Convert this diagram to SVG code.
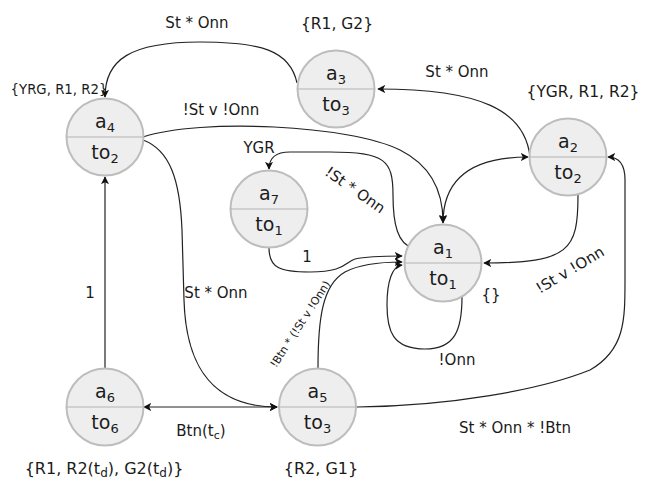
<svg xmlns="http://www.w3.org/2000/svg" width="646" height="483" viewBox="0 0 646 483">
<style>
  .node circle { fill: #eeeeee; stroke: #bdbdbd; stroke-width: 2; }
  .node line { stroke: #b3b3b3; stroke-width: 1; }
  .nt { font-family: "DejaVu Sans", "Liberation Sans", sans-serif; font-size: 19px; fill: #1a1a1a; text-anchor: middle; }
  .sub { font-size: 13px; }
  .lbl { font-family: "DejaVu Sans", "Liberation Sans", sans-serif; font-size: 15px; fill: #1a1a1a; text-anchor: middle; }
  .ann { font-family: "DejaVu Sans", "Liberation Sans", sans-serif; font-size: 15.5px; fill: #1a1a1a; text-anchor: middle; }
  .edges path { fill: none; stroke: #222222; stroke-width: 1.2; }
  .arr { marker-end: url(#ah); }
  .both { marker-start: url(#ah); marker-end: url(#ah); }
</style>
<defs>
  <marker id="ah" viewBox="0 0 10 10" refX="9" refY="5" markerWidth="8" markerHeight="8" markerUnits="userSpaceOnUse" orient="auto-start-reverse">
    <path d="M0,0 L10,5 L0,10 L2.5,5 z" fill="#111111"/>
  </marker>
</defs>
<rect width="646" height="483" fill="#ffffff"/>

<g id="edges" class="edges">
  <path class="arr" d="M297,83 C290,50 260,42 200,42 C130,42 105,60 105,97"/>
  <path class="arr" d="M530,157 C525,110 480,89 378,89"/>
  <path class="both" d="M443,223 C443,180 470,157 528,157"/>
  <path class="arr" d="M143,137 C200,118 350,125 400,150 C430,165 443,190 443,222"/>
  <path class="arr" d="M143,140 C170,150 180,180 182,230 L184,300 C186,370 215,407 277,407"/>
  <path class="arr" d="M105,368 L105,177"/>
  <path class="both" d="M144,407 L277,407"/>
  <path class="arr" d="M318,368 C318,320 322,285 345,272 C360,264 380,262 402,262"/>
  <path class="arr" d="M269,248 C269,268 280,272 310,272 C345,272 345,262 355,259 C368,256 385,256 402,256"/>
  <path class="arr" d="M413,248 C398,244 393,225 393,195 C393,160 385,152 330,152 L290,152 C275,152 269,158 269,169"/>
  <path class="arr" d="M578,195 C578,250 570,263 484,263"/>
  <path class="arr" d="M462,297 C462,330 455,349 425,349 C392,349 387,330 387,305 C387,282 392,266 402,265"/>
  <path class="arr" d="M357,407 C450,406 540,390 590,370 C625,350 625,320 625,280 L625,180 C625,165 620,157 608,157"/>
</g>

<g id="a1" class="node"><circle cx="443" cy="263" r="38.5"/><line x1="404.5" y1="263" x2="481.5" y2="263"/>
  <text class="nt" x="443" y="254">a<tspan class="sub" dy="4">1</tspan></text>
  <text class="nt" x="443" y="285">to<tspan class="sub" dy="4">1</tspan></text></g>
<g id="a2" class="node"><circle cx="568" cy="157" r="38.5"/><line x1="529.5" y1="157" x2="606.5" y2="157"/>
  <text class="nt" x="568" y="148">a<tspan class="sub" dy="4">2</tspan></text>
  <text class="nt" x="568" y="179">to<tspan class="sub" dy="4">2</tspan></text></g>
<g id="a3" class="node"><circle cx="336" cy="89" r="38.5"/><line x1="297.5" y1="89" x2="374.5" y2="89"/>
  <text class="nt" x="336" y="80">a<tspan class="sub" dy="4">3</tspan></text>
  <text class="nt" x="336" y="111">to<tspan class="sub" dy="4">3</tspan></text></g>
<g id="a4" class="node"><circle cx="105" cy="137" r="38.5"/><line x1="66.5" y1="137" x2="143.5" y2="137"/>
  <text class="nt" x="105" y="128">a<tspan class="sub" dy="4">4</tspan></text>
  <text class="nt" x="105" y="159">to<tspan class="sub" dy="4">2</tspan></text></g>
<g id="a5" class="node"><circle cx="317.5" cy="407" r="38.5"/><line x1="279" y1="407" x2="356" y2="407"/>
  <text class="nt" x="317.5" y="398">a<tspan class="sub" dy="4">5</tspan></text>
  <text class="nt" x="317.5" y="429">to<tspan class="sub" dy="4">3</tspan></text></g>
<g id="a6" class="node"><circle cx="105" cy="407" r="38.5"/><line x1="66.5" y1="407" x2="143.5" y2="407"/>
  <text class="nt" x="105" y="398">a<tspan class="sub" dy="4">6</tspan></text>
  <text class="nt" x="105" y="429">to<tspan class="sub" dy="4">6</tspan></text></g>
<g id="a7" class="node"><circle cx="269" cy="209" r="38.5"/><line x1="230.5" y1="209" x2="307.5" y2="209"/>
  <text class="nt" x="269" y="200">a<tspan class="sub" dy="4">7</tspan></text>
  <text class="nt" x="269" y="231">to<tspan class="sub" dy="4">1</tspan></text></g>

<g id="labels">
  <text class="lbl" x="197" y="28">St * Onn</text>
  <text class="ann" x="337" y="29">{R1, G2}</text>
  <text class="lbl" x="457" y="77">St * Onn</text>
  <text class="ann" x="583" y="97">{YGR, R1, R2}</text>
  <text class="ann" x="59" y="94" style="font-size:13.3px">{YRG, R1, R2}</text>
  <text class="lbl" x="221" y="115">!St v !Onn</text>
  <text class="lbl" x="259" y="153">YGR</text>
  <text class="lbl" transform="translate(355,190) rotate(35)" y="5">!St * Onn</text>
  <text class="lbl" x="307" y="262">1</text>
  <text class="lbl" x="90" y="298">1</text>
  <text class="lbl" x="216" y="298">St * Onn</text>
  <text class="lbl" x="491" y="300">{}</text>
  <text class="lbl" transform="translate(570,270) rotate(-31)" y="5">!St v !Onn</text>
  <text class="lbl" transform="translate(300,324) rotate(-57)" y="4" style="font-size:11px">!Btn * (!St v !Onn)</text>
  <text class="lbl" x="457" y="365">!Onn</text>
  <text class="lbl" x="201" y="436">Btn(t<tspan style="font-size:11px" dy="3">c</tspan><tspan dy="-3">)</tspan></text>
  <text class="lbl" x="515" y="433">St * Onn * !Btn</text>
  <text class="ann" x="104" y="474" style="font-size:16px">{R1, R2(t<tspan style="font-size:12px" dy="3">d</tspan><tspan dy="-3">), G2(t</tspan><tspan style="font-size:12px" dy="3">d</tspan><tspan dy="-3">)}</tspan></text>
  <text class="ann" x="321" y="474" style="font-size:16px">{R2, G1}</text>
</g>
</svg>
